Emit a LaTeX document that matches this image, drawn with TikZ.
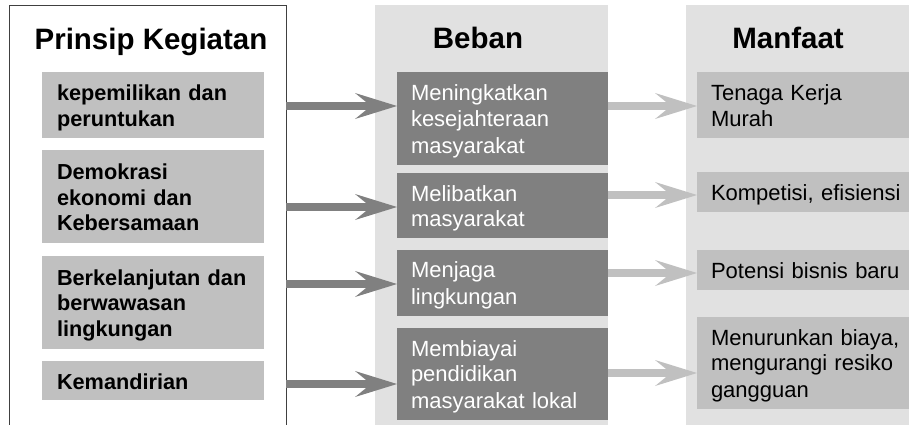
\documentclass[tikz,border=0pt]{standalone}
\usepackage{fontspec}
\setmainfont{Liberation Sans}
\usepackage{tikz}
\usetikzlibrary{arrows.meta}
\definecolor{bandgray}{HTML}{E1E1E1}
\definecolor{boxgray}{HTML}{C0C0C0}
\definecolor{darkbox}{HTML}{808080}
\definecolor{framegray}{HTML}{404040}
\newcommand\boxstrut{\rule[-4.4pt]{0pt}{25.8pt}}
\tikzset{
  band/.style={fill=bandgray,anchor=north west,minimum height=430pt,inner sep=0pt,outer sep=0pt},
  heading/.style={anchor=base,font=\fontsize{29.5pt}{35pt}\selectfont\bfseries},
  item/.style={anchor=north west,align=left,inner xsep=14pt,inner ysep=0pt,outer sep=0pt,
    font=\fontsize{22pt}{25.8pt}\selectfont,
    execute at begin node=\boxstrut,execute at end node=\boxstrut},
  prinsip box/.style={item,fill=boxgray,inner xsep=15pt,text width=192pt,
    font=\fontsize{21.7pt}{25.8pt}\selectfont\bfseries},
  beban box/.style={item,fill=darkbox,text=white,text width=183pt},
  manfaat box/.style={item,fill=boxgray,text width=195pt},
  dark arrow/.style={->,draw=darkbox,line width=8pt},
  light arrow/.style={->,draw=boxgray,line width=8pt}
}

\begin{document}
\begin{tikzpicture}[x=1pt,y=-1pt,
		>={Stealth[length=42pt,width=26pt,inset=16pt,line width=0pt]}]
	\useasboundingbox (0,0) rectangle (909,424);
	\clip (0,0) rectangle (909,424);
	% columns
	\node [band,minimum width=233pt] (bebanband) at (375,5) {};
	\node [band,minimum width=240pt] (manfaatband) at (686,5) {};
	\node [draw=framegray,line width=1pt,anchor=north west,inner sep=0pt,outer sep=0pt,
		minimum width=277pt,minimum height=430pt] (prinsip) at (9,5) {};
	\node [heading] (tprinsip) at (151,49) {Prinsip Kegiatan};
	\node [heading] (tbeban) at (478,48) {Beban};
	\node [heading] (tmanfaat) at (788,48) {Manfaat};
	% prinsip kegiatan
	\node [prinsip box,minimum height=66pt] (p1) at (42,72) {kepemilikan dan\\peruntukan};
	\node [prinsip box,minimum height=93pt] (p2) at (42,150) {Demokrasi\\ekonomi dan\\Kebersamaan};
	\node [prinsip box,minimum height=93pt] (p3) at (42,256) {Berkelanjutan dan\\berwawasan\\lingkungan};
	\node [prinsip box,minimum height=39pt] (p4) at (42,361) {Kemandirian};
	% beban
	\node [beban box,minimum height=93pt] (b1) at (397,72) {Meningkatkan\\kesejahteraan\\masyarakat};
	\node [beban box,minimum height=65pt] (b2) at (397,173) {Melibatkan\\masyarakat};
	\node [beban box,minimum height=66pt] (b3) at (397,250) {Menjaga\\lingkungan};
	\node [beban box,minimum height=92pt] (b4) at (397,328) {Membiayai\\pendidikan\\masyarakat lokal};
	% manfaat
	\node [manfaat box,minimum height=66pt] (m1) at (697,72) {Tenaga Kerja\\Murah};
	\node [manfaat box,minimum height=40pt] (m2) at (697,172) {Kompetisi, efisiensi};
	\node [manfaat box,minimum height=40pt] (m3) at (697,250) {Potensi bisnis baru};
	\node [manfaat box,minimum height=92pt] (m4) at (697,317) {Menurunkan biaya,\\mengurangi resiko\\gangguan};
	% arrows
	\draw [dark arrow] (prinsip.east |- 0,106) -- (b1.west |- 0,106);
	\draw [dark arrow] (prinsip.east |- 0,207) -- (b2.west |- 0,207);
	\draw [dark arrow] (prinsip.east |- 0,284) -- (b3.west |- 0,284);
	\draw [dark arrow] (prinsip.east |- 0,384) -- (b4.west |- 0,384);
	\draw [light arrow] (b1.east |- 0,106) -- (m1.west |- 0,106);
	\draw [light arrow] (b2.east |- 0,195) -- (m2.west |- 0,195);
	\draw [light arrow] (b3.east |- 0,273) -- (m3.west |- 0,273);
	\draw [light arrow] (b4.east |- 0,373) -- (m4.west |- 0,373);
\end{tikzpicture}
\end{document}
